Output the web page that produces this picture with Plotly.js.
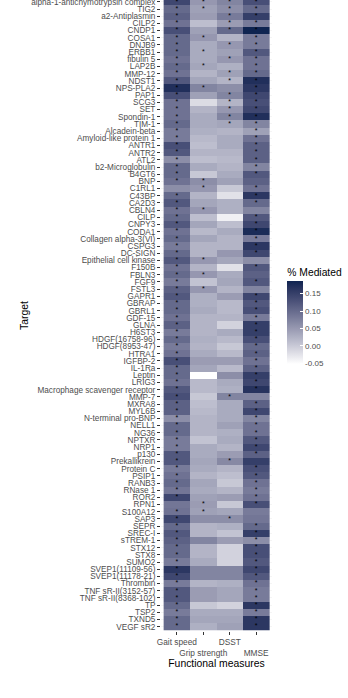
<!DOCTYPE html>
<html><head><meta charset="utf-8">
<script src="https://cdn.plot.ly/plotly-3.0.1.min.js"></script>
<style>html,body{margin:0;padding:0;background:#fff;}#chart{width:348px;height:698px;}</style>
</head><body><div id="chart"></div>
<script>
const targets = ["alpha-1-antichymotrypsin complex","TIG2","a2-Antiplasmin","CILP2","CNDP1","COSA1","DNJB9","ERBB1","fibulin 5","LAP2B",
"MMP-12","NDST1","NPS-PLA2","PAP1","SCG3","SET","Spondin-1","TIM-1","Alcadein-beta","Amyloid-like protein 1",
"ANTR1","ANTR2","ATL2","b2-Microglobulin","B4GT6","BNP","C1RL1","C43BP","CA2D3","CBLN4",
"CILP","CNPY3","CODA1","Collagen alpha-3(VI)","CSPG3","DC-SIGN","Epithelial cell kinase","F150B","FBLN3","FGF9",
"FSTL3","GAPR1","GBRAP","GBRL1","GDF-15","GLNA","H6ST3","HDGF(16758-96)","HDGF(8953-47)","HTRA1",
"IGFBP-2","IL-1Ra","Leptin","LRIG3","Macrophage scavenger receptor","MMP-7","MXRA8","MYL6B","N-terminal pro-BNP","NELL1",
"NG36","NPTXR","NRP1","p130","Prekallikrein","Protein C","PSIP1","RANB3","RNase 1","ROR2",
"RPN1","S100A12","SAP3","SEPR","SREC-I","sTREM-1","STX12","STX8","SUMO2","SVEP1(11109-56)",
"SVEP1(11178-21)","Thrombin","TNF sR-II(3152-57)","TNF sR-II(8368-102)","TP","TSP2","TXND5","VEGF sR2"];

const measures = ["Gait speed","Grip strength","DSST","MMSE"];
const measureTickText = ["Gait speed","<br>Grip strength","DSST","<br>MMSE"];

const gaitSpeed = [0.14,0.10,0.11,0.09,0.13,0.10,0.10,0.10,0.09,0.10,
0.09,0.12,0.17,0.13,0.09,0.09,0.09,0.10,0.08,0.08,
0.13,0.12,0.06,0.10,0.10,0.09,0.06,0.10,0.12,0.09,
0.10,0.12,0.09,0.10,0.08,0.10,0.12,0.09,0.10,0.08,
0.11,0.12,0.10,0.10,0.09,0.11,0.08,0.10,0.08,0.09,
0.13,0.10,0.10,0.09,0.12,0.13,0.11,0.11,0.06,0.10,
0.10,0.08,0.08,0.12,0.12,0.08,0.09,0.10,0.085,0.14,
0.085,0.09,0.14,0.10,0.12,0.11,0.10,0.10,0.08,0.16,
0.14,0.08,0.12,0.12,0.10,0.08,0.10,0.10];

const gripStrength = [0.05,0.04,0.045,0.01,0.04,0.05,0.03,0.03,0.03,0.035,
0.02,0.035,0.07,0.04,-0.02,0.02,0.03,0.03,0.025,0.015,
0.01,0.02,0.01,0.03,0.0,0.06,0.05,0.02,0.035,0.05,
0.01,0.035,0.015,0.035,0.02,0.02,0.05,0.02,0.05,0.005,
0.05,0.025,0.025,0.03,0.02,0.02,0.02,0.025,0.02,0.03,
0.045,0.035,-0.054,0.015,0.015,0.0,0.01,0.015,0.02,0.02,
0.02,0.005,0.03,0.03,0.035,0.03,0.02,0.035,0.03,0.04,
0.045,0.04,0.06,0.02,0.02,0.07,0.02,0.02,0.03,0.07,
0.07,0.02,0.045,0.045,0.0,0.03,0.035,0.025];

const dsst = [0.07,0.06,0.08,0.045,0.10,0.02,0.05,0.04,0.05,0.025,
0.04,0.02,0.06,0.07,0.02,0.05,0.07,0.035,0.02,0.03,
0.03,0.02,0.015,0.02,0.03,0.04,0.0,-0.025,0.025,0.025,
-0.04,0.01,0.03,0.02,0.02,0.05,0.035,-0.025,0.03,0.035,
0.02,0.045,0.015,0.015,0.02,-0.01,0.03,0.015,0.0,0.015,
0.045,0.015,0.06,0.03,0.025,0.07,0.03,0.03,0.03,0.04,
0.025,0.03,0.02,0.045,0.065,0.02,0.01,0.0,0.02,0.045,
0.0,0.035,0.06,0.025,0.005,0.045,-0.01,-0.01,-0.01,0.07,
0.07,0.025,0.035,0.035,-0.01,0.03,0.035,0.04];

const mmse = [0.13,0.10,0.15,0.08,0.185,0.08,0.08,0.12,0.09,0.09,
0.10,0.17,0.16,0.14,0.13,0.14,0.17,0.07,0.04,0.09,
0.11,0.11,0.11,0.07,0.12,0.11,0.09,0.16,0.10,0.07,
0.12,0.14,0.175,0.08,0.16,0.14,0.06,0.12,0.11,0.12,
0.07,0.14,0.12,0.13,0.08,0.15,0.15,0.13,0.10,0.11,
0.09,0.11,0.15,0.14,0.165,0.07,0.11,0.14,0.07,0.09,
0.09,0.12,0.14,0.11,0.15,0.13,0.12,0.09,0.08,0.09,
0.13,0.08,0.085,0.10,0.15,0.06,0.13,0.13,0.12,0.14,
0.12,0.09,0.08,0.08,0.16,0.08,0.16,0.16];

// significance (1 = "*")
const sigGait = [1,1,1,1,1,1,1,1,1,1, 1,1,1,1,1,1,1,1,1,1, 1,1,1,1,1,1,0,1,1,1, 1,1,1,1,1,1,1,1,1,1,
1,1,1,1,1,1,1,1,1,1, 1,1,1,1,1,1,1,1,1,1, 1,1,1,1,1,1,1,1,1,1, 0,1,1,1,1,1,1,1,1,1, 1,1,1,1,1,1,1,1];
const sigGrip = [1,1,0,0,0,1,0,1,0,1, 0,0,1,0,0,0,0,0,0,0, 0,0,0,0,0,1,1,0,0,1, 0,0,0,0,0,0,1,0,1,0,
1,0,0,0,0,0,0,0,0,0, 0,0,0,0,0,0,0,0,0,0, 0,0,0,0,0,0,0,0,0,0, 1,1,0,0,0,0,0,0,0,0, 0,0,0,0,0,0,0,0];
const sigDsst = [1,1,1,1,1,0,1,0,1,0, 1,1,0,1,1,1,1,1,0,0, 0,0,0,0,0,0,0,0,0,0, 0,0,0,0,0,0,0,0,0,0,
0,0,0,0,0,0,0,0,0,0, 0,0,0,0,0,1,0,0,0,0, 0,0,0,0,1,0,0,0,0,0, 0,0,1,0,0,0,0,0,0,0, 0,0,0,0,0,0,0,0];
const sigMmse = [1,1,1,1,1,1,1,1,1,1, 1,1,1,1,1,1,1,1,1,1, 1,1,1,1,1,0,1,1,1,0, 1,1,1,1,1,1,0,1,0,1,
0,1,1,1,1,1,1,1,1,1, 1,1,1,1,1,0,1,1,1,1, 1,1,1,1,0,1,1,1,1,1, 1,0,0,1,1,1,1,1,1,1, 1,1,1,1,1,1,1,1];

const zMin = -0.054, zMax = 0.185;
const colorbarTicks = [-0.05, 0, 0.05, 0.10, 0.15];
const colorbarTickText = ["-0.05","0.00","0.05","0.10","0.15"];

// ---- Lab-interpolated colour scale (white -> dark navy), like ggplot2 gradient
function hex2rgb(h){return [parseInt(h.substr(1,2),16),parseInt(h.substr(3,2),16),parseInt(h.substr(5,2),16)];}
function toLin(c){c/=255;return c<=0.04045?c/12.92:Math.pow((c+0.055)/1.055,2.4);}
function fromLin(c){c=c<=0.0031308?12.92*c:1.055*Math.pow(c,1/2.4)-0.055;return Math.round(Math.max(0,Math.min(1,c))*255);}
const Xn=0.95047,Yn=1,Zn=1.08883;
function f(t){return t>0.008856?Math.cbrt(t):7.787*t+16/116;}
function finv(t){const t3=t*t*t;return t3>0.008856?t3:(t-16/116)/7.787;}
function rgb2lab(rgb){const r=toLin(rgb[0]),g=toLin(rgb[1]),b=toLin(rgb[2]);
 const X=0.4124*r+0.3576*g+0.1805*b,Y=0.2126*r+0.7152*g+0.0722*b,Z=0.0193*r+0.1192*g+0.9505*b;
 const fx=f(X/Xn),fy=f(Y/Yn),fz=f(Z/Zn);return [116*fy-16,500*(fx-fy),200*(fy-fz)];}
function lab2rgb(lab){const fy=(lab[0]+16)/116,fx=fy+lab[1]/500,fz=fy-lab[2]/200;
 const X=Xn*finv(fx),Y=Yn*finv(fy),Z=Zn*finv(fz);
 const r=3.2406*X-1.5372*Y-0.4986*Z,g=-0.9689*X+1.8758*Y+0.0415*Z,b=0.0557*X-0.2040*Y+1.0570*Z;
 return 'rgb('+fromLin(r)+','+fromLin(g)+','+fromLin(b)+')';}
const lowLab=rgb2lab(hex2rgb('#ffffff')), highLab=rgb2lab(hex2rgb('#0f2451'));
const colorscale=[];
for(let i=0;i<=12;i++){const t=i/12;colorscale.push([t,lab2rgb([0,1,2].map(k=>lowLab[k]+(highLab[k]-lowLab[k])*t))]);}

const rowIdx = targets.map((_,i)=>i);
const z = targets.map((_,i)=>[gaitSpeed[i],gripStrength[i],dsst[i],mmse[i]]);
const sigCols=[sigGait,sigGrip,sigDsst,sigMmse];
const sx=[],sy=[];
sigCols.forEach((col,j)=>col.forEach((s,i)=>{if(s){sx.push(j);sy.push(i);}}));

const FONT='Liberation Sans, Arial, sans-serif';
const heat={type:'heatmap',x:[0,1,2,3],y:rowIdx,z:z,zmin:zMin,zmax:zMax,colorscale:colorscale,
 xgap:0,ygap:0,hoverinfo:'skip',
 colorbar:{title:{text:'% Mediated',side:'top',font:{family:FONT,size:10.3,color:'#000'}},
  x:1.138,xanchor:'left',xpad:0,y:0.5008,yanchor:'middle',ypad:0,
  lenmode:'pixels',len:99,thickness:16,outlinewidth:0,
  tickvals:colorbarTicks,ticktext:colorbarTickText,ticks:'inside',ticklen:3,tickcolor:'#ffffff',
  tickfont:{family:FONT,size:8,color:'#4d4d4d'}}};
const stars={type:'scatter',mode:'text',x:sx,y:sy,text:sx.map(()=>'*'),
 textfont:{family:FONT,size:7,color:'#000'},hoverinfo:'skip',showlegend:false};

const layout={width:348,height:698,margin:{l:160.5,r:76.4,t:0,b:67},
 paper_bgcolor:'#fff',plot_bgcolor:'#fff',showlegend:false,
 font:{family:FONT},
 xaxis:{range:[-0.6,3.6],tickvals:[0,1,2,3],ticktext:measureTickText,tickangle:0,ticks:'outside',ticklen:3,tickcolor:'#333',
  tickfont:{size:8.3,color:'#4d4d4d'},showgrid:false,zeroline:false,showline:false,fixedrange:true,
  title:{text:'Functional measures',font:{size:10.4,color:'#000'},standoff:2}},
 yaxis:{range:[87.6,-0.256],tickvals:rowIdx,ticktext:targets,ticks:'outside',ticklen:3,tickcolor:'#333',
  ticklabeloverflow:'allow',
  tickfont:{size:8.2,color:'#4d4d4d'},showgrid:true,gridcolor:'#ebebeb',gridwidth:0.5,zeroline:false,showline:false,fixedrange:true,
  title:{text:'Target',font:{size:10.4,color:'#000'},standoff:0}}};
Plotly.newPlot('chart',[heat,stars],layout,{displayModeBar:false,staticPlot:true});
</script></body></html>
